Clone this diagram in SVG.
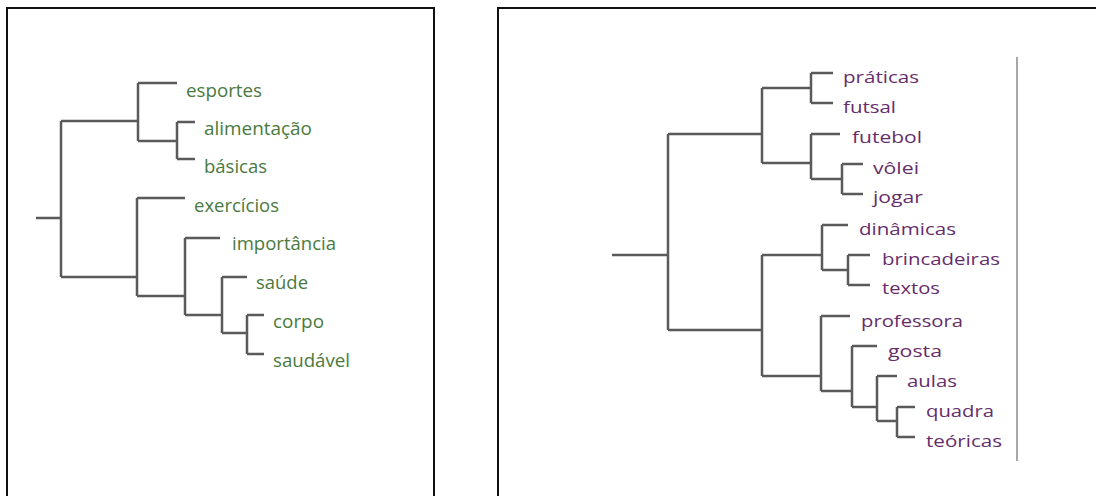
<svg xmlns="http://www.w3.org/2000/svg" width="1096" height="496" viewBox="0 0 1096 496">
<style>
.frame{fill:none;stroke:#111;stroke-width:2}
.br{fill:none;stroke:#5a5a5a;stroke-width:2.5;stroke-linejoin:miter;stroke-linecap:butt}
.g{font-family:"Open Sans","Noto Sans",sans-serif;font-size:18px;fill:#4a7a40}
.p{font-family:"Open Sans","Noto Sans",sans-serif;font-size:17px;fill:#662d6b}
.sep{stroke:#8a8a8a;stroke-width:1.5}
</style>
<rect width="1096" height="496" fill="#fff"/>
<rect id="panel-left" class="frame" x="7" y="8" width="427" height="500"/>
<rect id="panel-right" class="frame" x="498" y="8" width="610" height="500"/>
<line class="sep" x1="1017" y1="57" x2="1017" y2="461"/>

<g id="connectors">
  <path class="br" d="M36 218H61M61 121V277M61 121H138M61 277H137"/>
  <path class="br" d="M138 83V141M138 83H177M138 141H177M177 122V159M177 122H195M177 159H195"/>
  <path class="br" d="M137 198V296M137 198H185M137 296H185M185 238V315M185 238H220M185 315H222M222 277V333M222 277H247M222 333H247M247 315V354M247 315H264M247 354H264"/>
  <path class="br" d="M612 255H668M668 134V330M668 134H762M668 330H762"/>
  <path class="br" d="M762 88V163M762 88H811M762 163H811M811 73V103M811 73H833M811 103H833M811 134V179M811 134H840M811 179H842M842 164V194M842 164H863M842 194H863"/>
  <path class="br" d="M762 255V376M762 255H822M762 376H821M822 225V270M822 225H848M822 270H848M848 255V285M848 255H870M848 285H870"/>
  <path class="br" d="M821 316V391M821 316H850M821 391H852M852 346V407M852 346H877M852 407H877M877 376V421M877 376H897M877 421H897M897 407V437M897 407H915M897 437H915"/>
</g>

<g id="n-esportes"><text class="g" x="186" y="97" textLength="76" lengthAdjust="spacingAndGlyphs">esportes</text></g>
<g id="n-alimentacao"><text class="g" x="204" y="135" textLength="108" lengthAdjust="spacingAndGlyphs">alimentação</text></g>
<g id="n-basicas"><text class="g" x="204" y="173" textLength="63" lengthAdjust="spacingAndGlyphs">básicas</text></g>
<g id="n-exercicios"><text class="g" x="194" y="212" textLength="85" lengthAdjust="spacingAndGlyphs">exercícios</text></g>
<g id="n-importancia"><text class="g" x="232" y="250" textLength="104" lengthAdjust="spacingAndGlyphs">importância</text></g>
<g id="n-saude"><text class="g" x="256" y="289" textLength="52" lengthAdjust="spacingAndGlyphs">saúde</text></g>
<g id="n-corpo"><text class="g" x="273" y="328" textLength="51" lengthAdjust="spacingAndGlyphs">corpo</text></g>
<g id="n-saudavel"><text class="g" x="273" y="367" textLength="77" lengthAdjust="spacingAndGlyphs">saudável</text></g>

<g id="n-praticas"><text class="p" x="843" y="83" textLength="76" lengthAdjust="spacingAndGlyphs">práticas</text></g>
<g id="n-futsal"><text class="p" x="843" y="113" textLength="53" lengthAdjust="spacingAndGlyphs">futsal</text></g>
<g id="n-futebol"><text class="p" x="852" y="143" textLength="70" lengthAdjust="spacingAndGlyphs">futebol</text></g>
<g id="n-volei"><text class="p" x="873" y="174" textLength="46" lengthAdjust="spacingAndGlyphs">vôlei</text></g>
<g id="n-jogar"><text class="p" x="873" y="203" textLength="50" lengthAdjust="spacingAndGlyphs">jogar</text></g>
<g id="n-dinamicas"><text class="p" x="859" y="235" textLength="97" lengthAdjust="spacingAndGlyphs">dinâmicas</text></g>
<g id="n-brincadeiras"><text class="p" x="882" y="265" textLength="118" lengthAdjust="spacingAndGlyphs">brincadeiras</text></g>
<g id="n-textos"><text class="p" x="882" y="294" textLength="58" lengthAdjust="spacingAndGlyphs">textos</text></g>
<g id="n-professora"><text class="p" x="861" y="327" textLength="102" lengthAdjust="spacingAndGlyphs">professora</text></g>
<g id="n-gosta"><text class="p" x="888" y="357" textLength="54" lengthAdjust="spacingAndGlyphs">gosta</text></g>
<g id="n-aulas"><text class="p" x="907" y="387" textLength="50" lengthAdjust="spacingAndGlyphs">aulas</text></g>
<g id="n-quadra"><text class="p" x="926" y="417" textLength="68" lengthAdjust="spacingAndGlyphs">quadra</text></g>
<g id="n-teoricas"><text class="p" x="926" y="447" textLength="76" lengthAdjust="spacingAndGlyphs">teóricas</text></g>
</svg>
